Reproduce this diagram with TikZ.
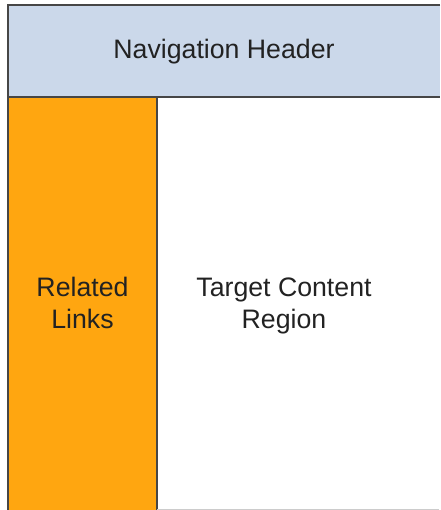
\documentclass[tikz,border=0pt]{standalone}
\usepackage{fontspec}
\setmainfont{Liberation Sans}
\definecolor{headerblue}{RGB}{203,216,234}
\definecolor{linkorange}{RGB}{255,166,16}
\definecolor{edgegrey}{RGB}{70,70,70}
\definecolor{textgrey}{RGB}{34,34,34}

\begin{document}
\begin{tikzpicture}[x=1pt,y=-1pt,
  pane/.style={inner sep=0pt,outer sep=0pt,anchor=north west},
  edge/.style={draw=edgegrey,line width=2.5pt,line join=miter},
  caption/.style={font=\fontsize{26.7}{32}\selectfont,align=center,text=textgrey,anchor=base}]
  \fill[white] (0,0) rectangle (440,510);
  \useasboundingbox (0,0) rectangle (440,510);
  \begin{scope}[overlay]
  % header across the top
  \node[pane,fill=headerblue,minimum width=432pt,minimum height=92pt] (header) at (8,5) {};
  \draw[edge] (header.north east) -- (header.north west)
              -- (header.south west) -- (header.south east);
  \node[caption] (headtext) at (224,59) {Navigation Header};
  % side column
  \node[pane,fill=linkorange,minimum width=149pt,minimum height=413pt] (links) at (8,97) {};
  \draw[edge] (links.south west) -- (links.north west)
              -- (links.north east) -- (links.south east);
  \node[caption] (linktext) at (82.5,328) {Related\\Links};
  % main area
  \draw[black!20,line width=1.5pt] (links.south east) ++(0,-0.75) -- (439,509.25);
  \node[caption] (target) at (284,328) {Target Content\\Region};
  \end{scope}
\end{tikzpicture}
\end{document}
